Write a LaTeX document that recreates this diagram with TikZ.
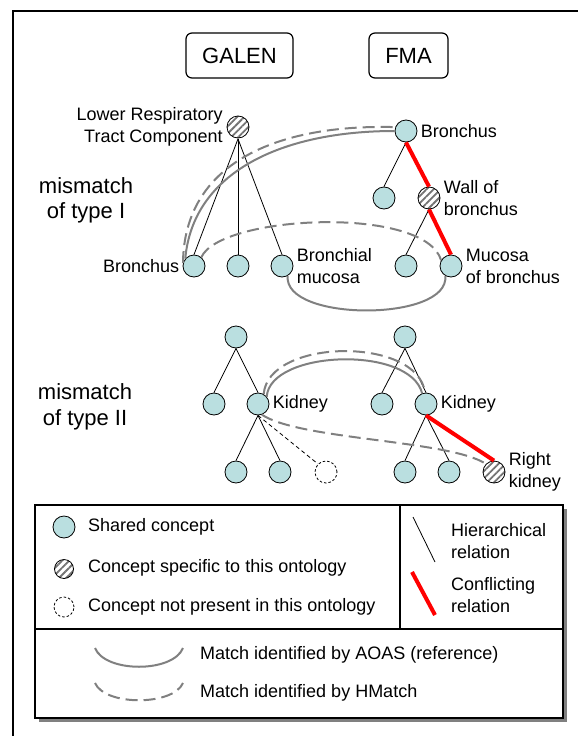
\documentclass[tikz,border=0pt]{standalone}
\usepackage{fontspec}
\setmainfont{Liberation Sans}
\usetikzlibrary{patterns.meta}

\definecolor{shared}{RGB}{186,223,224}
\definecolor{matchgray}{RGB}{128,128,128}

\begin{document}
\begin{tikzpicture}[x=1pt, y=-1pt,
font=\fontsize{18}{22}\selectfont,
concept/.style={circle, draw, fill=shared, minimum size=22pt, inner sep=0pt, line width=0.8pt},
specific/.style={concept, fill=white, pattern={Lines[angle=45, distance=5pt, line width=1.8pt]}, pattern color=black!55},
absent/.style={concept, fill=none, dash pattern=on 2.5pt off 2pt},
edge/.style={line width=0.8pt},
conflict/.style={line width=4pt, red},
match/.style={line width=2pt, matchgray},
hmatch/.style={match, dash pattern=on 12pt off 6pt},
ontology/.style={rectangle, rounded corners=6pt, draw, line width=1.2pt, minimum height=45pt, font=\fontsize{22}{26}\selectfont},
info/.style={draw=none, fill=none, inner sep=0pt}]

\useasboundingbox (0,0) rectangle (578,736);

%% outer frame
\draw[line width=1.2pt] (13,760) -- (13,11) -- (600,11);

%% ontology headers
\node[ontology, minimum width=107pt] (galen) at (239.5,55.5) {GALEN};
\node[ontology, minimum width=79pt] (fma) at (408.5,55.5) {FMA};

%% mismatch of type I
\node[info, align=center, font=\fontsize{22}{25}\selectfont] (mm-1) at (86,200) {mismatch\\of type I};

\node[specific, label={[align=right]left:Lower Respiratory\\Tract Component}] (G1-r) at (238,127) {};
\node[concept, label=left:Bronchus] (G1-1) at (194,266) {};
\node[concept] (G1-2) at (238,266) {};
\node[concept, label={[align=left]right:Bronchial\\mucosa}] (G1-3) at (282,266) {};

\node[concept, label=right:Bronchus] (F1-r) at (406,131) {};
\node[concept] (F1-1) at (384,198) {};
\node[specific, label={[align=left]right:Wall of\\bronchus}] (F1-2) at (429,198) {};
\node[concept] (F1-3) at (406,266) {};
\node[concept, label={[align=left]right:Mucosa\\of bronchus}] (F1-4) at (451,266) {};

%% mismatch of type II
\node[info, align=center, font=\fontsize{22}{26}\selectfont] (mm-2) at (85,407) {mismatch\\of type II};

\node[concept] (G2-r) at (236,337) {};
\node[concept] (G2-1) at (214,404) {};
\node[concept, label=right:Kidney] (G2-2) at (258,404) {};
\node[concept] (G2-3) at (236,472) {};
\node[concept] (G2-4) at (280,472) {};
\node[absent] (G2-5) at (326,472) {};

\node[concept] (F2-r) at (405,337) {};
\node[concept] (F2-1) at (382,404) {};
\node[concept, label=right:Kidney] (F2-2) at (426,404) {};
\node[concept] (F2-3) at (405,472) {};
\node[concept] (F2-4) at (449,472) {};
\node[specific, label={[align=left]right:Right\\kidney}] (F2-5) at (494,472) {};

%% hierarchical relations
\foreach \p/\c in {G1-r/G1-1, G1-r/G1-2, G1-r/G1-3, F1-r/F1-1, F1-2/F1-3,
                   G2-r/G2-1, G2-r/G2-2, G2-2/G2-3, G2-2/G2-4,
                   F2-r/F2-1, F2-r/F2-2, F2-2/F2-3, F2-2/F2-4}
      \draw[edge] (\p.south) -- (\c.north);
\draw[edge, dash pattern=on 4pt off 3pt] (G2-2.south) -- (G2-5.north west);

%% conflicting relations
\foreach \p/\c in {F1-r/F1-2, F1-2/F1-4, F2-2/F2-5}
      \draw[conflict] (\p.south) -- (\c.north);

%% matches
\draw[match] (G1-1.140) .. controls (193,172) and (282,131) .. (F1-r.west);
\draw[hmatch] (G1-1.165) .. controls (184,163) and (277,124) .. (F1-r.160);
\draw[hmatch] (G1-1.50) .. controls (220,215) and (425,205) .. (F1-4.150);
\draw[match] (G1-3.-60) .. controls (283,322) and (450,322) .. (F1-4.-120);

\draw[match] (G2-2.40) .. controls (270,350) and (410,345) .. (F2-2.110);
\draw[hmatch] (G2-2.60) .. controls (268,338) and (418,336) .. (F2-2.95);
\draw[hmatch] (G2-2.-70) .. controls (300,440) and (450,440) .. (F2-5.135);

%% legend
\fill[black!50] (39,509) rectangle (567,722);
\draw[line width=1.2pt, fill=white] (35,505) rectangle (563,718);
\draw[line width=1.2pt] (400,505) -- (400,629);
\draw[line width=1.2pt] (35,629) -- (563,629);

\node[concept] (L-shared) at (64,527) {};
\node[specific, minimum size=19pt] (L-specific) at (64,569) {};
\node[absent, minimum size=20pt] (L-absent) at (64,607) {};
\node[info, anchor=west] (t-shared) at (88,527) {Shared concept};
\node[info, anchor=west] (t-specific) at (88,568) {Concept specific to this ontology};
\node[info, anchor=west] (t-absent) at (88,607) {Concept not present in this ontology};

\coordinate (h-top) at (413,517);
\coordinate (h-bot) at (435,562);
\coordinate (c-top) at (412,572);
\coordinate (c-bot) at (435,615);
\draw[edge] (h-top) -- (h-bot);
\draw[conflict] (c-top) -- (c-bot);
\node[info, anchor=west, align=left] (t-hier) at (451,541.5) {Hierarchical\\relation};
\node[info, anchor=west, align=left] (t-conf) at (451,595) {Conflicting\\relation};

\coordinate (m-a) at (95,648);
\coordinate (m-b) at (183,648);
\coordinate (h-a) at (95,683);
\coordinate (h-b) at (183,683);
\draw[match] (m-a) .. controls (105,673) and (173,673) .. (m-b);
\draw[hmatch] (h-a) .. controls (105,706) and (173,706) .. (h-b);
\node[info, anchor=west] (t-aoas) at (200,655) {Match identified by AOAS (reference)};
\node[info, anchor=west] (t-hmatch) at (200,693) {Match identified by HMatch};

\end{tikzpicture}
\end{document}
